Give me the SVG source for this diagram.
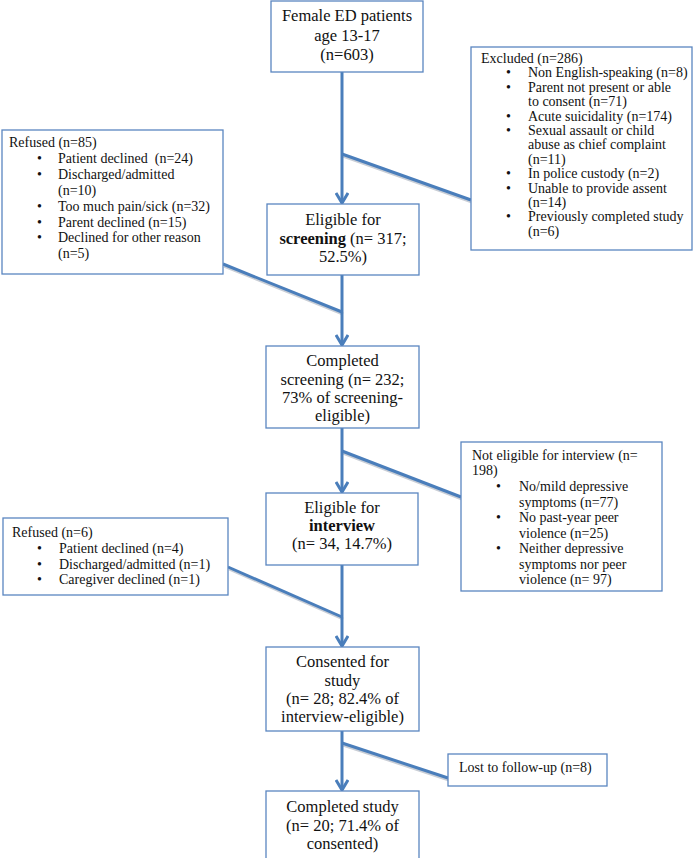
<svg xmlns="http://www.w3.org/2000/svg" width="695" height="858" viewBox="0 0 695 858">
<defs>
<style>
.box{fill:#fff;stroke:#5a86c0;stroke-width:1.3}
.main{font-family:"Liberation Serif",serif;font-size:16.5px;fill:#111;text-anchor:middle}
.side{font-family:"Liberation Serif",serif;font-size:14px;fill:#111}
.b{font-weight:bold}
.con{stroke:#4a7ebb;stroke-width:3;fill:none}
.sh{stroke:#c9ced6;stroke-width:3;fill:none}
</style>
<marker id="arr" viewBox="0 0 14 14" refX="11" refY="7" markerWidth="14" markerHeight="14" orient="auto" markerUnits="userSpaceOnUse">
<path d="M1,1 L11,7 L1,13" fill="none" stroke="#4a7ebb" stroke-width="3"/>
</marker>
<clipPath id="clipNE"><rect x="461" y="442" width="201" height="149"/></clipPath>
</defs>
<rect width="695" height="858" fill="#fff"/>

<g id="connectors">
<line class="sh" x1="343" y1="156" x2="472" y2="202"/>
<line class="sh" x1="224" y1="266" x2="343" y2="314"/>
<line class="sh" x1="343" y1="453" x2="462" y2="499"/>
<line class="sh" x1="229" y1="569" x2="343" y2="619"/>
<line class="sh" x1="343" y1="745" x2="449" y2="780"/>
<line class="con" x1="342" y1="72" x2="342" y2="203" marker-end="url(#arr)"/>
<line class="con" x1="342" y1="154" x2="471" y2="200"/>
<line class="con" x1="342" y1="275" x2="342" y2="345" marker-end="url(#arr)"/>
<line class="con" x1="223" y1="264" x2="342" y2="312"/>
<line class="con" x1="342" y1="428" x2="342" y2="492" marker-end="url(#arr)"/>
<line class="con" x1="342" y1="451" x2="461" y2="497"/>
<line class="con" x1="342" y1="565" x2="342" y2="646" marker-end="url(#arr)"/>
<line class="con" x1="228" y1="567" x2="342" y2="617"/>
<line class="con" x1="342" y1="731" x2="342" y2="790" marker-end="url(#arr)"/>
<line class="con" x1="342" y1="743" x2="448" y2="778"/>
</g>

<g id="n-start">
<rect class="box" x="271" y="1" width="152" height="71"/>
<text class="main" x="347" y="21">Female ED patients</text>
<text class="main" x="347" y="41">age 13-17</text>
<text class="main" x="347" y="60">(n=603)</text>
</g>

<g id="n-excluded">
<rect class="box" x="471" y="47" width="221" height="203"/>
<text class="side" x="481" y="63">Excluded (n=286)</text>
<g class="side">
<text x="506" y="77.4">•</text><text x="528" y="77.4">Non English-speaking (n=8)</text>
<text x="506" y="91.8">•</text><text x="528" y="91.8">Parent not present or able</text>
<text x="528" y="106.2">to consent (n=71)</text>
<text x="506" y="120.6">•</text><text x="528" y="120.6">Acute suicidality (n=174)</text>
<text x="506" y="135">•</text><text x="528" y="135">Sexual assault or child</text>
<text x="528" y="149.4">abuse as chief complaint</text>
<text x="528" y="163.8">(n=11)</text>
<text x="506" y="178.2">•</text><text x="528" y="178.2">In police custody (n=2)</text>
<text x="506" y="192.6">•</text><text x="528" y="192.6">Unable to provide assent</text>
<text x="528" y="207">(n=14)</text>
<text x="506" y="221.4">•</text><text x="528" y="221.4">Previously completed study</text>
<text x="528" y="235.8">(n=6)</text>
</g>
</g>

<g id="n-refused1">
<rect class="box" x="2" y="130" width="221" height="144"/>
<g class="side">
<text x="9" y="147">Refused (n=85)</text>
<text x="37" y="163">•</text><text x="58" y="163" xml:space="preserve">Patient declined  (n=24)</text>
<text x="37" y="179">•</text><text x="58" y="179">Discharged/admitted</text>
<text x="58" y="195">(n=10)</text>
<text x="37" y="211">•</text><text x="58" y="211">Too much pain/sick (n=32)</text>
<text x="37" y="226.5">•</text><text x="58" y="226.5">Parent declined (n=15)</text>
<text x="37" y="242">•</text><text x="58" y="242">Declined for other reason</text>
<text x="58" y="258">(n=5)</text>
</g>
</g>

<g id="n-elig-screen">
<rect class="box" x="267" y="204" width="152" height="71"/>
<text class="main" x="343" y="225">Eligible for</text>
<text class="main" x="343" y="243.5"><tspan class="b">screening</tspan> (n= 317;</text>
<text class="main" x="343" y="262">52.5%)</text>
</g>

<g id="n-comp-screen">
<rect class="box" x="266" y="346" width="153" height="82"/>
<text class="main" x="342.5" y="366">Completed</text>
<text class="main" x="342.5" y="384.5">screening (n= 232;</text>
<text class="main" x="342.5" y="403">73% of screening-</text>
<text class="main" x="342.5" y="421">eligible)</text>
</g>

<g id="n-not-eligible">
<rect class="box" x="461" y="442" width="201" height="149"/>
<g class="side" clip-path="url(#clipNE)">
<text x="472" y="459.5">Not eligible for interview (n=</text>
<text x="472" y="475">198)</text>
<text x="496" y="491">•</text><text x="519" y="491">No/mild depressive</text>
<text x="519" y="506.5">symptoms (n=77)</text>
<text x="496" y="522">•</text><text x="519" y="522">No past-year peer</text>
<text x="519" y="537.5">violence (n=25)</text>
<text x="496" y="553">•</text><text x="519" y="553">Neither depressive</text>
<text x="519" y="568.5">symptoms nor peer</text>
<text x="519" y="584">violence (n= 97)</text>
</g>
</g>

<g id="n-elig-interview">
<rect class="box" x="266" y="493" width="152" height="72"/>
<text class="main" x="342" y="513">Eligible for</text>
<text class="main b" x="342" y="531">interview</text>
<text class="main" x="342" y="549">(n= 34, 14.7%)</text>
</g>

<g id="n-refused2">
<rect class="box" x="3" y="518" width="225" height="77"/>
<g class="side">
<text x="12" y="537">Refused (n=6)</text>
<text x="37" y="553">•</text><text x="59" y="553">Patient declined (n=4)</text>
<text x="37" y="568.5">•</text><text x="59" y="568.5">Discharged/admitted (n=1)</text>
<text x="37" y="584">•</text><text x="59" y="584">Caregiver declined (n=1)</text>
</g>
</g>

<g id="n-consented">
<rect class="box" x="266" y="647" width="153" height="84"/>
<text class="main" x="342.5" y="667">Consented for</text>
<text class="main" x="342.5" y="685.5">study</text>
<text class="main" x="342.5" y="704">(n= 28; 82.4% of</text>
<text class="main" x="342.5" y="722">interview-eligible)</text>
</g>

<g id="n-lost">
<rect class="box" x="448" y="754" width="159" height="32"/>
<text class="side" x="459" y="772">Lost to follow-up (n=8)</text>
</g>

<g id="n-completed">
<rect class="box" x="266" y="791" width="153" height="75"/>
<text class="main" x="342.5" y="812">Completed study</text>
<text class="main" x="342.5" y="830.5">(n= 20; 71.4% of</text>
<text class="main" x="342.5" y="849">consented)</text>
</g>
</svg>
